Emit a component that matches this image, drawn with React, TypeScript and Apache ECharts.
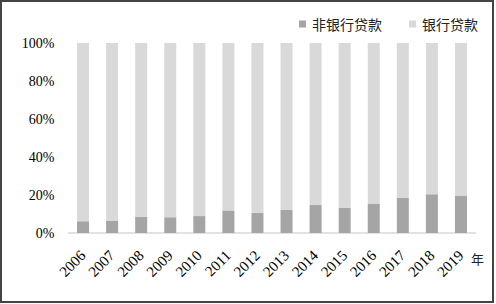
import React, { useEffect, useRef } from "react";
import * as echarts from "echarts";

const years = ["2006", "2007", "2008", "2009", "2010", "2011", "2012", "2013", "2014", "2015", "2016", "2017", "2018", "2019"];
const nonBank = [6.2, 6.5, 8.6, 8.3, 8.9, 11.9, 10.7, 12.3, 14.7, 13.3, 15.3, 18.4, 20.4, 19.5];
const bank = nonBank.map((v) => +(100 - v).toFixed(1));
const yTicks = [0, 20, 40, 60, 80, 100];

export default function App() {
  const ref = useRef<HTMLDivElement>(null);
  useEffect(() => {
    if (!ref.current) return;
    const chart = echarts.init(ref.current, null, { renderer: "svg" });
    const serif = "'Liberation Serif', 'Times New Roman', serif";
    const cjk = "'Noto Sans CJK SC', sans-serif";
    chart.setOption({
      animation: false,
      backgroundColor: "#fff",
      legend: {
        left: 294,
        top: 12,
        icon: "rect",
        itemWidth: 7,
        itemHeight: 7,
        itemGap: 27,
        textStyle: { fontFamily: cjk, fontSize: 14, color: "#222", padding: [0, 0, 0, 1] },
        data: ["非银行贷款", "银行贷款"],
      },
      grid: { left: 68.5, right: 20.5, top: 43, bottom: 71, containLabel: false },
      xAxis: {
        type: "category",
        data: years,
        axisLine: { lineStyle: { color: "#d9d9d9", width: 1.5 } },
        axisTick: { show: false },
        axisLabel: { rotate: 45, fontFamily: serif, fontSize: 15, color: "#000", margin: 20, interval: 0 },
      },
      yAxis: {
        type: "value",
        min: yTicks[0],
        max: yTicks[yTicks.length - 1],
        interval: 20,
        axisLine: { show: false },
        axisTick: { show: false },
        splitLine: { show: false },
        axisLabel: { formatter: "{value}%", fontFamily: serif, fontSize: 14, color: "#000", margin: 14 },
      },
      series: [
        { name: "非银行贷款", type: "bar", stack: "a", barWidth: 12, data: nonBank, itemStyle: { color: "#a5a5a5" } },
        { name: "银行贷款", type: "bar", stack: "a", barWidth: 12, data: bank, itemStyle: { color: "#d9d9d9" } },
      ],
      graphic: [
        { type: "rect", shape: { x: 1, y: 1, width: 492, height: 301 }, style: { fill: "none", stroke: "#444", lineWidth: 2 }, silent: true },
        { type: "text", left: 471, top: 252, style: { text: "年", fontFamily: cjk, fontSize: 13, fill: "#222" } },
      ],
    });
    return () => chart.dispose();
  }, []);
  return <div ref={ref} style={{ position: "fixed", left: 0, top: 0, width: 496, height: 304 }} />;
}
